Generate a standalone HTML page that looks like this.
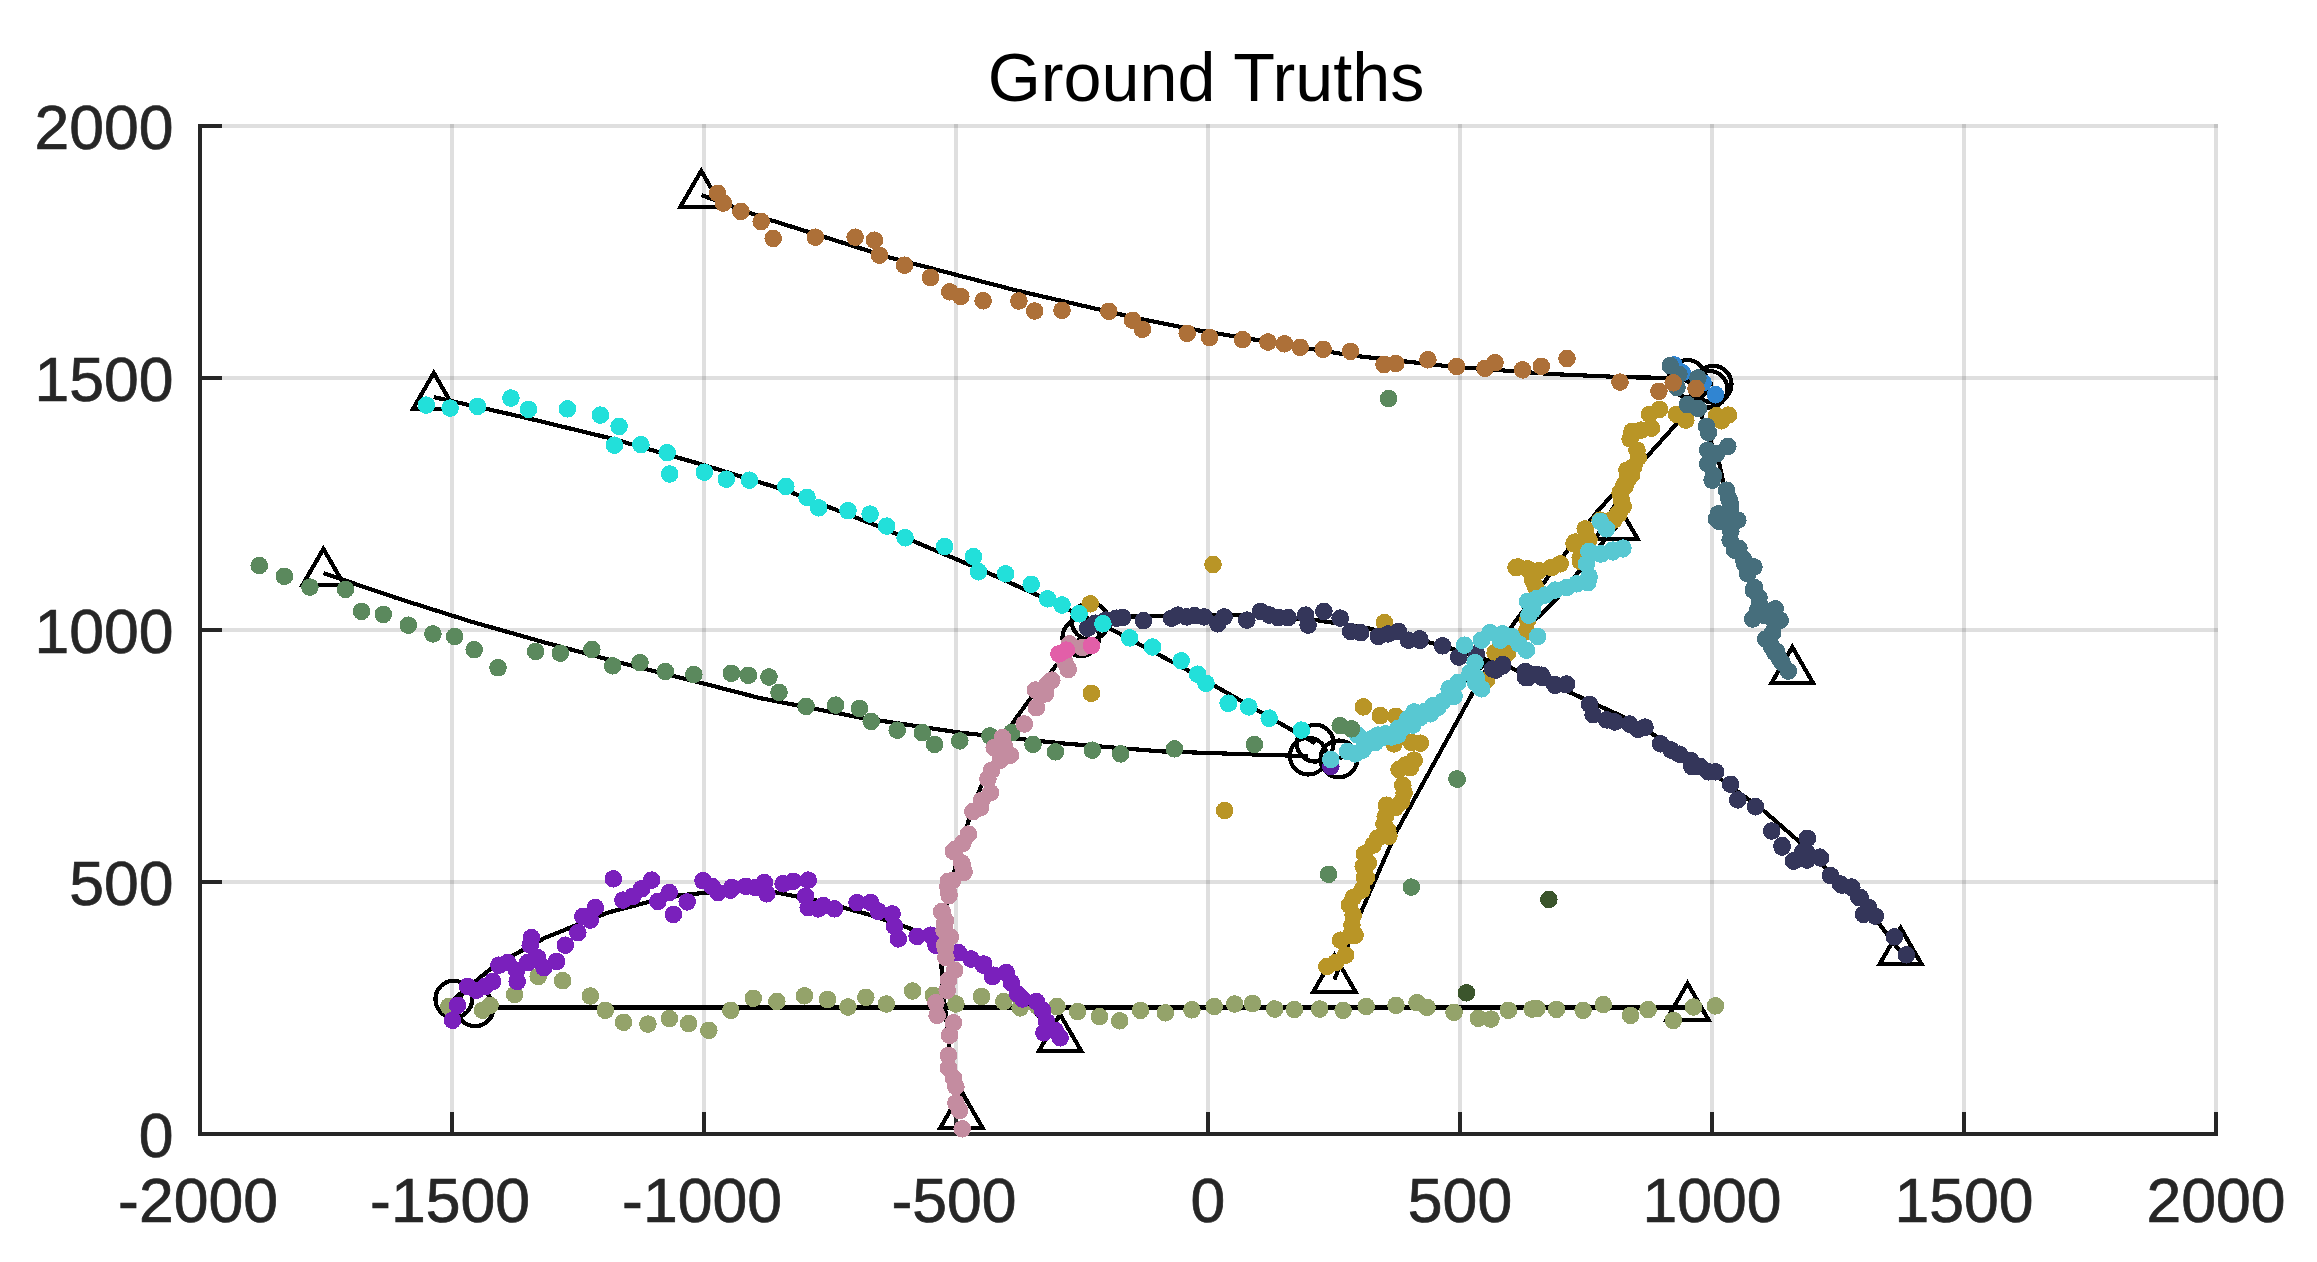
<!DOCTYPE html><html><head><meta charset="utf-8"><title>Ground Truths</title>
<style>html,body{margin:0;padding:0;background:#fff}svg{display:block}text{font-family:"Liberation Sans",Arial,sans-serif}</style></head><body>
<svg width="2317" height="1262" viewBox="0 0 2317 1262">
<rect width="2317" height="1262" fill="#fff"/>
<path d="M452.0 124.0V1134.0M704.0 124.0V1134.0M956.0 124.0V1134.0M1208.0 124.0V1134.0M1460.0 124.0V1134.0M1712.0 124.0V1134.0M1964.0 124.0V1134.0M2216.0 124.0V1134.0" stroke="#262626" stroke-opacity="0.15" stroke-width="4" fill="none"/>
<path d="M200.0 882.0H2218.0M200.0 630.0H2218.0M200.0 378.0H2218.0M200.0 126.0H2218.0" stroke="#262626" stroke-opacity="0.15" stroke-width="4" fill="none"/>
<path d="M200.0 124.0V1134.0M198.0 1134.0H2218.0M452.0 1134.0v-22M704.0 1134.0v-22M956.0 1134.0v-22M1208.0 1134.0v-22M1460.0 1134.0v-22M1712.0 1134.0v-22M1964.0 1134.0v-22M2216.0 1134.0v-22M200.0 882.0h22M200.0 630.0h22M200.0 378.0h22M200.0 126.0h22" stroke="#262626" stroke-width="4" fill="none"/>
<g shape-rendering="crispEdges">
<g fill="none" stroke="#000" stroke-width="4.17" stroke-linejoin="round">
<path d="M701.4 195.1 L765.2 218.4 L890.4 257.7 L1015.7 290.3 L1140.9 319.1 L1200.0 330.7 L1350.3 355.3 L1450.4 366.5 L1550.6 374.0 L1625.7 377.3 L1668.0 377.8 L1713.0 384.5"/>
<path d="M433.8 397.1 L525.2 417.6 L612.9 438.9 L704.3 465.2 L785.7 490.3 L875.8 525.3 L980.0 569.2 L1040.0 596.3 L1112.7 630.0 L1185.3 668.9 L1290.0 729.0 L1315.2 743.2"/>
<path d="M323.4 573.1 L395.3 597.6 L470.4 621.4 L545.6 642.7 L620.7 662.8 L695.8 681.5 L760.0 698.1 L860.2 717.6 L960.4 732.7 L1060.5 743.2 L1160.7 751.4 L1260.9 754.7 L1308.3 756.1"/>
<path d="M453.8 999.0 L495.1 965.2 L545.2 937.7 L607.8 912.6 L670.4 896.3 L720.5 891.3 L770.6 891.3 L820.7 901.4 L870.8 915.1 L908.4 927.7 L945.9 945.2 L1000.0 975.2 L1060.1 1038.6"/>
<path d="M475.1 1007.5 L1687.5 1007.5"/>
<path d="M961.4 1115.5 L955.9 1090.4 L950.4 1065.4 L948.4 1040.3 L945.9 1015.3 L942.9 990.3 L941.4 965.2 L942.9 927.7 L947.5 902.0 L955.9 865.0 L967.9 822.8 L980.4 787.8 L995.4 757.7 L1012.9 722.6 L1029.2 700.1 L1055.5 666.3 L1080.8 637.6"/>
<path d="M1090.2 621.3 L1130.0 616.5 L1200.0 615.3 L1240.5 614.6 L1315.6 620.1 L1365.7 627.7 L1440.9 645.2 L1511.1 668.0 L1573.4 694.0 L1625.3 717.8 L1656.5 736.5 L1720.8 779.1 L1764.4 811.3 L1797.6 840.3 L1824.6 867.3 L1877.1 921.1 L1900.6 952.1"/>
<path d="M1334.4 979.5 L1361.9 910.1 L1396.5 831.5 L1472.9 692.5 L1512.7 625.1 L1567.8 550.0 L1596.3 512.7 L1677.1 423.2 L1710.0 388.0"/>
<path d="M1338.9 758.9 L1442.9 698.8 L1462.9 683.8 L1540.2 615.1 L1557.7 597.6 L1601.6 543.8 L1616.5 526.5"/>
<path d="M1687.4 378.5 L1695.0 395.0 L1700.0 412.0 L1706.0 428.0 L1712.0 445.0 L1719.0 462.0 L1723.0 481.0 L1729.0 505.0 L1731.0 531.0 L1739.0 548.0 L1745.0 564.0 L1754.0 588.0 L1760.0 603.0 L1769.0 620.0 L1774.0 636.0 L1779.0 652.0 L1792.3 671.3"/>
</g>
<g fill="none" stroke="#000" stroke-width="4.17" stroke-linejoin="miter">
<path d="M701.2 170.9L722.2 207.2H680.2Z"/>
<path d="M433.8 372.9L454.8 409.2H412.8Z"/>
<path d="M323.4 548.9L344.4 585.2H302.4Z"/>
<path d="M1060.1 1014.4L1081.1 1050.7H1039.1Z"/>
<path d="M1687.5 983.4L1708.5 1019.7H1666.5Z"/>
<path d="M961.4 1091.3L982.4 1127.6H940.4Z"/>
<path d="M1900.6 927.9L1921.6 964.2H1879.6Z"/>
<path d="M1334.4 955.3L1355.4 991.6H1313.4Z"/>
<path d="M1616.5 502.3L1637.5 538.6H1595.5Z"/>
<path d="M1792.3 647.1L1813.3 683.4H1771.3Z"/>
<circle cx="1713.1" cy="384.2" r="18.4"/>
<circle cx="1709.0" cy="389.2" r="18.4"/>
<circle cx="1687.4" cy="378.5" r="18.4"/>
<circle cx="1315.2" cy="743.2" r="18.4"/>
<circle cx="1308.3" cy="756.1" r="18.4"/>
<circle cx="1338.9" cy="758.9" r="18.4"/>
<circle cx="453.8" cy="999.2" r="18.4"/>
<circle cx="475.1" cy="1007.8" r="18.4"/>
<circle cx="1080.8" cy="637.6" r="18.4"/>
<circle cx="1090.2" cy="621.3" r="18.4"/>
</g>
<g fill="#3085d2">
<circle cx="1715.5" cy="394.7" r="8.8"/><circle cx="1674.1" cy="364.9" r="8.8"/><circle cx="1703.1" cy="382.8" r="8.8"/><circle cx="1682.2" cy="372.8" r="8.8"/>
</g>
<g fill="#5a1fa0">
<circle cx="1330.8" cy="766.4" r="8.8"/>
</g>
<g fill="#b99526">
<circle cx="1659.5" cy="409.4" r="8.8"/><circle cx="1649.5" cy="414.4" r="8.8"/><circle cx="1676.5" cy="414.4" r="8.8"/><circle cx="1685.8" cy="420.1" r="8.8"/><circle cx="1716.5" cy="415.7" r="8.8"/><circle cx="1728.4" cy="415.1" r="8.8"/><circle cx="1721.5" cy="420.7" r="8.8"/><circle cx="1651.4" cy="428.2" r="8.8"/><circle cx="1641.4" cy="430.1" r="8.8"/><circle cx="1632.0" cy="431.3" r="8.8"/><circle cx="1630.1" cy="438.9" r="8.8"/><circle cx="1637.0" cy="450.1" r="8.8"/><circle cx="1638.3" cy="457.6" r="8.8"/><circle cx="1633.9" cy="466.4" r="8.8"/><circle cx="1627.0" cy="470.2" r="8.8"/><circle cx="1631.4" cy="475.2" r="8.8"/><circle cx="1627.6" cy="480.2" r="8.8"/><circle cx="1625.1" cy="486.4" r="8.8"/><circle cx="1620.1" cy="492.7" r="8.8"/><circle cx="1621.4" cy="500.2" r="8.8"/><circle cx="1623.2" cy="506.5" r="8.8"/><circle cx="1618.9" cy="514.0" r="8.8"/><circle cx="1613.8" cy="520.2" r="8.8"/><circle cx="1213.0" cy="564.5" r="8.8"/><circle cx="1224.7" cy="810.5" r="8.8"/><circle cx="1384.5" cy="622.6" r="8.8"/><circle cx="1516.0" cy="567.5" r="8.8"/><circle cx="1090.2" cy="603.8" r="8.8"/><circle cx="1091.4" cy="693.3" r="8.8"/><circle cx="1363.4" cy="706.9" r="8.8"/><circle cx="1380.3" cy="715.7" r="8.8"/><circle cx="1395.9" cy="716.3" r="8.8"/><circle cx="1394.0" cy="743.9" r="8.8"/><circle cx="1411.6" cy="742.6" r="8.8"/><circle cx="1420.3" cy="743.2" r="8.8"/><circle cx="1414.1" cy="760.1" r="8.8"/><circle cx="1405.3" cy="765.1" r="8.8"/><circle cx="1399.0" cy="769.5" r="8.8"/><circle cx="1410.3" cy="767.7" r="8.8"/><circle cx="1402.8" cy="785.2" r="8.8"/><circle cx="1404.1" cy="792.7" r="8.8"/><circle cx="1401.6" cy="801.5" r="8.8"/><circle cx="1386.5" cy="805.2" r="8.8"/><circle cx="1395.3" cy="807.7" r="8.8"/><circle cx="1385.3" cy="816.5" r="8.8"/><circle cx="1384.0" cy="824.0" r="8.8"/><circle cx="1387.8" cy="830.3" r="8.8"/><circle cx="1377.8" cy="838.0" r="8.8"/><circle cx="1574.0" cy="543.8" r="8.8"/><circle cx="1589.0" cy="540.0" r="8.8"/><circle cx="1580.3" cy="561.3" r="8.8"/><circle cx="1560.2" cy="563.8" r="8.8"/><circle cx="1551.5" cy="567.5" r="8.8"/><circle cx="1539.0" cy="570.7" r="8.8"/><circle cx="1527.7" cy="568.8" r="8.8"/><circle cx="1517.7" cy="566.9" r="8.8"/><circle cx="1532.7" cy="580.1" r="8.8"/><circle cx="1535.2" cy="586.3" r="8.8"/><circle cx="1527.7" cy="620.1" r="8.8"/><circle cx="1526.4" cy="631.4" r="8.8"/><circle cx="1495.1" cy="652.7" r="8.8"/><circle cx="1507.7" cy="652.7" r="8.8"/><circle cx="1486.4" cy="680.2" r="8.8"/><circle cx="1627.8" cy="477.5" r="8.8"/><circle cx="1624.0" cy="485.0" r="8.8"/><circle cx="1620.2" cy="493.8" r="8.8"/><circle cx="1621.5" cy="500.1" r="8.8"/><circle cx="1622.7" cy="506.3" r="8.8"/><circle cx="1617.7" cy="513.8" r="8.8"/><circle cx="1611.5" cy="520.1" r="8.8"/><circle cx="1600.2" cy="520.1" r="8.8"/><circle cx="1585.2" cy="528.9" r="8.8"/><circle cx="1586.4" cy="536.4" r="8.8"/><circle cx="1575.2" cy="542.0" r="8.8"/><circle cx="1580.2" cy="557.7" r="8.8"/><circle cx="1388.9" cy="836.3" r="8.8"/><circle cx="1368.3" cy="863.2" r="8.8"/><circle cx="1366.4" cy="877.6" r="8.8"/><circle cx="1355.1" cy="935.2" r="8.8"/><circle cx="1326.9" cy="966.5" r="8.8"/><circle cx="1335.6" cy="962.7" r="8.8"/><circle cx="1345.6" cy="955.2" r="8.8"/><circle cx="1340.6" cy="940.2" r="8.8"/><circle cx="1350.6" cy="935.2" r="8.8"/><circle cx="1351.9" cy="925.1" r="8.8"/><circle cx="1353.2" cy="915.1" r="8.8"/><circle cx="1349.4" cy="905.1" r="8.8"/><circle cx="1353.2" cy="897.6" r="8.8"/><circle cx="1361.9" cy="890.1" r="8.8"/><circle cx="1364.4" cy="877.6" r="8.8"/><circle cx="1363.2" cy="866.3" r="8.8"/><circle cx="1364.4" cy="853.8" r="8.8"/><circle cx="1373.2" cy="845.0" r="8.8"/>
</g>
<g fill="#34365a">
<circle cx="1495.6" cy="670.1" r="8.8"/><circle cx="1502.8" cy="665.9" r="8.8"/><circle cx="1525.7" cy="677.4" r="8.8"/><circle cx="1536.1" cy="674.3" r="8.8"/><circle cx="1542.3" cy="677.4" r="8.8"/><circle cx="1554.7" cy="684.6" r="8.8"/><circle cx="1566.2" cy="684.6" r="8.8"/><circle cx="1589.6" cy="704.4" r="8.8"/><circle cx="1593.1" cy="714.7" r="8.8"/><circle cx="1606.6" cy="719.9" r="8.8"/><circle cx="1614.9" cy="722.0" r="8.8"/><circle cx="1629.5" cy="724.1" r="8.8"/><circle cx="1637.8" cy="729.3" r="8.8"/><circle cx="1645.0" cy="727.2" r="8.8"/><circle cx="1660.6" cy="743.8" r="8.8"/><circle cx="1671.0" cy="750.0" r="8.8"/><circle cx="1679.3" cy="754.2" r="8.8"/><circle cx="1690.7" cy="760.4" r="8.8"/><circle cx="1691.8" cy="766.6" r="8.8"/><circle cx="1700.1" cy="766.6" r="8.8"/><circle cx="1708.4" cy="771.8" r="8.8"/><circle cx="1715.6" cy="771.8" r="8.8"/><circle cx="1730.6" cy="784.3" r="8.8"/><circle cx="1737.8" cy="799.9" r="8.8"/><circle cx="1755.5" cy="806.7" r="8.8"/><circle cx="1771.7" cy="831.0" r="8.8"/><circle cx="1782.1" cy="845.5" r="8.8"/><circle cx="1807.4" cy="838.3" r="8.8"/><circle cx="1802.8" cy="851.8" r="8.8"/><circle cx="1793.5" cy="861.1" r="8.8"/><circle cx="1807.0" cy="860.1" r="8.8"/><circle cx="1820.5" cy="858.0" r="8.8"/><circle cx="1830.4" cy="875.6" r="8.8"/><circle cx="1840.2" cy="883.9" r="8.8"/><circle cx="1851.6" cy="887.0" r="8.8"/><circle cx="1858.9" cy="897.4" r="8.8"/><circle cx="1782.1" cy="847.0" r="8.8"/><circle cx="1794.5" cy="860.5" r="8.8"/><circle cx="1806.3" cy="852.1" r="8.8"/><circle cx="1819.8" cy="857.1" r="8.8"/><circle cx="1830.6" cy="875.7" r="8.8"/><circle cx="1841.7" cy="885.1" r="8.8"/><circle cx="1851.8" cy="887.4" r="8.8"/><circle cx="1860.2" cy="897.5" r="8.8"/><circle cx="1868.6" cy="907.6" r="8.8"/><circle cx="1863.5" cy="914.4" r="8.8"/><circle cx="1875.3" cy="916.1" r="8.8"/><circle cx="1894.5" cy="936.9" r="8.8"/><circle cx="1906.3" cy="954.8" r="8.8"/><circle cx="1246.8" cy="620.1" r="8.8"/><circle cx="1260.6" cy="611.4" r="8.8"/><circle cx="1269.3" cy="615.1" r="8.8"/><circle cx="1278.1" cy="617.6" r="8.8"/><circle cx="1288.1" cy="617.6" r="8.8"/><circle cx="1305.6" cy="615.1" r="8.8"/><circle cx="1308.1" cy="625.1" r="8.8"/><circle cx="1323.9" cy="611.4" r="8.8"/><circle cx="1340.2" cy="618.1" r="8.8"/><circle cx="1350.7" cy="631.4" r="8.8"/><circle cx="1360.7" cy="632.7" r="8.8"/><circle cx="1378.3" cy="636.4" r="8.8"/><circle cx="1388.3" cy="633.9" r="8.8"/><circle cx="1398.3" cy="631.4" r="8.8"/><circle cx="1408.3" cy="640.2" r="8.8"/><circle cx="1419.6" cy="638.9" r="8.8"/><circle cx="1087.7" cy="628.2" r="8.8"/><circle cx="1095.2" cy="623.2" r="8.8"/><circle cx="1105.8" cy="620.1" r="8.8"/><circle cx="1116.5" cy="618.2" r="8.8"/><circle cx="1122.7" cy="617.6" r="8.8"/><circle cx="1143.4" cy="620.7" r="8.8"/><circle cx="1171.6" cy="618.2" r="8.8"/><circle cx="1177.8" cy="615.1" r="8.8"/><circle cx="1186.6" cy="616.9" r="8.8"/><circle cx="1194.7" cy="615.7" r="8.8"/><circle cx="1204.1" cy="616.9" r="8.8"/><circle cx="1217.9" cy="623.8" r="8.8"/><circle cx="1224.1" cy="616.9" r="8.8"/><circle cx="1420.0" cy="640.2" r="8.8"/><circle cx="1442.5" cy="645.8" r="8.8"/><circle cx="1458.8" cy="657.1" r="8.8"/><circle cx="1476.3" cy="653.9" r="8.8"/><circle cx="1492.6" cy="669.0" r="8.8"/><circle cx="1502.6" cy="664.6" r="8.8"/><circle cx="1525.2" cy="671.5" r="8.8"/><circle cx="1527.7" cy="677.7" r="8.8"/><circle cx="1541.5" cy="675.2" r="8.8"/><circle cx="1555.2" cy="685.3" r="8.8"/><circle cx="1566.5" cy="684.0" r="8.8"/>
</g>
<g fill="#466e7c">
<circle cx="1670.3" cy="365.7" r="8.8"/><circle cx="1678.9" cy="374.2" r="8.8"/><circle cx="1697.9" cy="378.0" r="8.8"/><circle cx="1677.0" cy="387.5" r="8.8"/><circle cx="1687.4" cy="404.7" r="8.8"/><circle cx="1698.4" cy="408.5" r="8.8"/><circle cx="1706.5" cy="426.3" r="8.8"/><circle cx="1708.4" cy="432.6" r="8.8"/><circle cx="1727.8" cy="446.4" r="8.8"/><circle cx="1707.8" cy="450.1" r="8.8"/><circle cx="1716.5" cy="453.9" r="8.8"/><circle cx="1707.8" cy="463.9" r="8.8"/><circle cx="1713.4" cy="475.2" r="8.8"/><circle cx="1712.1" cy="480.2" r="8.8"/><circle cx="1726.5" cy="490.2" r="8.8"/><circle cx="1729.0" cy="499.0" r="8.8"/><circle cx="1730.3" cy="507.7" r="8.8"/><circle cx="1719.0" cy="514.0" r="8.8"/><circle cx="1716.5" cy="519.0" r="8.8"/><circle cx="1726.5" cy="520.2" r="8.8"/><circle cx="1737.8" cy="520.2" r="8.8"/><circle cx="1730.3" cy="530.3" r="8.8"/><circle cx="1730.2" cy="503.8" r="8.8"/><circle cx="1718.3" cy="513.8" r="8.8"/><circle cx="1718.9" cy="521.3" r="8.8"/><circle cx="1730.2" cy="518.8" r="8.8"/><circle cx="1737.7" cy="520.0" r="8.8"/><circle cx="1730.8" cy="531.3" r="8.8"/><circle cx="1730.2" cy="540.1" r="8.8"/><circle cx="1738.9" cy="548.2" r="8.8"/><circle cx="1734.5" cy="550.1" r="8.8"/><circle cx="1743.3" cy="558.9" r="8.8"/><circle cx="1744.6" cy="563.9" r="8.8"/><circle cx="1753.9" cy="567.0" r="8.8"/><circle cx="1747.7" cy="573.9" r="8.8"/><circle cx="1754.6" cy="587.7" r="8.8"/><circle cx="1753.3" cy="590.2" r="8.8"/><circle cx="1759.0" cy="597.7" r="8.8"/><circle cx="1759.6" cy="605.2" r="8.8"/><circle cx="1757.7" cy="610.2" r="8.8"/><circle cx="1775.2" cy="608.9" r="8.8"/><circle cx="1752.7" cy="619.0" r="8.8"/><circle cx="1764.0" cy="615.2" r="8.8"/><circle cx="1772.7" cy="619.0" r="8.8"/><circle cx="1780.2" cy="620.2" r="8.8"/><circle cx="1772.7" cy="632.7" r="8.8"/><circle cx="1765.8" cy="639.0" r="8.8"/><circle cx="1771.5" cy="646.5" r="8.8"/><circle cx="1776.5" cy="651.5" r="8.8"/><circle cx="1779.0" cy="658.0" r="8.8"/><circle cx="1774.8" cy="652.5" r="8.8"/><circle cx="1782.1" cy="662.8" r="8.8"/><circle cx="1788.3" cy="671.1" r="8.8"/>
</g>
<g fill="#58c8d2">
<circle cx="1330.8" cy="759.5" r="8.8"/><circle cx="1347.7" cy="751.4" r="8.8"/><circle cx="1355.2" cy="753.9" r="8.8"/><circle cx="1357.7" cy="735.1" r="8.8"/><circle cx="1366.5" cy="745.1" r="8.8"/><circle cx="1377.8" cy="735.1" r="8.8"/><circle cx="1375.3" cy="742.6" r="8.8"/><circle cx="1391.5" cy="737.0" r="8.8"/><circle cx="1405.3" cy="726.3" r="8.8"/><circle cx="1412.8" cy="725.1" r="8.8"/><circle cx="1414.1" cy="711.9" r="8.8"/><circle cx="1430.4" cy="713.8" r="8.8"/><circle cx="1437.9" cy="707.5" r="8.8"/><circle cx="1449.1" cy="688.8" r="8.8"/><circle cx="1454.1" cy="696.3" r="8.8"/><circle cx="1457.9" cy="682.5" r="8.8"/><circle cx="1475.4" cy="682.5" r="8.8"/><circle cx="1481.7" cy="688.8" r="8.8"/><circle cx="1362.7" cy="750.1" r="8.8"/><circle cx="1371.5" cy="738.9" r="8.8"/><circle cx="1384.0" cy="737.0" r="8.8"/><circle cx="1385.3" cy="733.8" r="8.8"/><circle cx="1397.8" cy="735.1" r="8.8"/><circle cx="1398.4" cy="728.2" r="8.8"/><circle cx="1407.8" cy="718.8" r="8.8"/><circle cx="1420.3" cy="717.6" r="8.8"/><circle cx="1425.3" cy="711.3" r="8.8"/><circle cx="1432.9" cy="705.7" r="8.8"/><circle cx="1442.9" cy="701.3" r="8.8"/><circle cx="1622.9" cy="548.1" r="8.8"/><circle cx="1612.8" cy="551.9" r="8.8"/><circle cx="1601.6" cy="553.8" r="8.8"/><circle cx="1589.0" cy="551.3" r="8.8"/><circle cx="1586.5" cy="563.8" r="8.8"/><circle cx="1589.0" cy="576.3" r="8.8"/><circle cx="1587.8" cy="582.6" r="8.8"/><circle cx="1576.5" cy="583.8" r="8.8"/><circle cx="1566.5" cy="587.6" r="8.8"/><circle cx="1555.2" cy="590.1" r="8.8"/><circle cx="1545.2" cy="595.1" r="8.8"/><circle cx="1536.5" cy="598.6" r="8.8"/><circle cx="1527.7" cy="601.4" r="8.8"/><circle cx="1532.7" cy="610.1" r="8.8"/><circle cx="1528.9" cy="615.1" r="8.8"/><circle cx="1537.7" cy="636.4" r="8.8"/><circle cx="1490.1" cy="632.7" r="8.8"/><circle cx="1502.6" cy="633.9" r="8.8"/><circle cx="1511.4" cy="636.4" r="8.8"/><circle cx="1481.4" cy="640.2" r="8.8"/><circle cx="1464.5" cy="645.2" r="8.8"/><circle cx="1500.1" cy="640.2" r="8.8"/><circle cx="1518.9" cy="643.9" r="8.8"/><circle cx="1526.4" cy="650.2" r="8.8"/><circle cx="1475.1" cy="662.7" r="8.8"/><circle cx="1470.1" cy="672.7" r="8.8"/><circle cx="1476.3" cy="677.7" r="8.8"/><circle cx="1480.1" cy="687.8" r="8.8"/><circle cx="1600.2" cy="521.3" r="8.8"/><circle cx="1606.5" cy="528.9" r="8.8"/><circle cx="1588.9" cy="551.4" r="8.8"/><circle cx="1600.2" cy="553.9" r="8.8"/><circle cx="1612.7" cy="550.1" r="8.8"/><circle cx="1622.7" cy="548.9" r="8.8"/><circle cx="1586.4" cy="563.9" r="8.8"/><circle cx="1588.9" cy="577.7" r="8.8"/>
</g>
<g fill="#94a36a">
<circle cx="1537.0" cy="1008.6" r="8.8"/><circle cx="1556.5" cy="1009.3" r="8.8"/><circle cx="1583.1" cy="1010.3" r="8.8"/><circle cx="1603.3" cy="1004.6" r="8.8"/><circle cx="1630.6" cy="1015.4" r="8.8"/><circle cx="1648.1" cy="1009.6" r="8.8"/><circle cx="1673.3" cy="1020.4" r="8.8"/><circle cx="1693.5" cy="1007.0" r="8.8"/><circle cx="1715.4" cy="1005.9" r="8.8"/><circle cx="448.8" cy="1006.5" r="8.8"/><circle cx="482.6" cy="1010.3" r="8.8"/><circle cx="490.1" cy="1005.3" r="8.8"/><circle cx="514.7" cy="994.5" r="8.8"/><circle cx="538.2" cy="976.5" r="8.8"/><circle cx="562.7" cy="980.7" r="8.8"/><circle cx="590.3" cy="996.0" r="8.8"/><circle cx="605.3" cy="1010.3" r="8.8"/><circle cx="623.6" cy="1022.3" r="8.8"/><circle cx="647.9" cy="1024.1" r="8.8"/><circle cx="669.4" cy="1018.6" r="8.8"/><circle cx="688.7" cy="1023.6" r="8.8"/><circle cx="708.8" cy="1030.3" r="8.8"/><circle cx="730.8" cy="1010.3" r="8.8"/><circle cx="753.3" cy="998.3" r="8.8"/><circle cx="776.9" cy="1001.5" r="8.8"/><circle cx="804.4" cy="995.8" r="8.8"/><circle cx="827.5" cy="999.5" r="8.8"/><circle cx="848.0" cy="1007.0" r="8.8"/><circle cx="865.8" cy="997.3" r="8.8"/><circle cx="886.3" cy="1004.0" r="8.8"/><circle cx="912.6" cy="991.0" r="8.8"/><circle cx="933.4" cy="995.3" r="8.8"/><circle cx="955.9" cy="1004.0" r="8.8"/><circle cx="981.5" cy="996.5" r="8.8"/><circle cx="1003.8" cy="1001.5" r="8.8"/><circle cx="1020.1" cy="1007.8" r="8.8"/><circle cx="1037.6" cy="1006.5" r="8.8"/><circle cx="1057.1" cy="1006.5" r="8.8"/><circle cx="1077.7" cy="1011.6" r="8.8"/><circle cx="1099.5" cy="1016.6" r="8.8"/><circle cx="1119.7" cy="1020.8" r="8.8"/><circle cx="1140.5" cy="1010.3" r="8.8"/><circle cx="1165.3" cy="1012.8" r="8.8"/><circle cx="1191.9" cy="1009.8" r="8.8"/><circle cx="1214.2" cy="1006.5" r="8.8"/><circle cx="1234.7" cy="1004.0" r="8.8"/><circle cx="1252.5" cy="1003.5" r="8.8"/><circle cx="1274.8" cy="1009.0" r="8.8"/><circle cx="1294.3" cy="1009.5" r="8.8"/><circle cx="1319.8" cy="1009.0" r="8.8"/><circle cx="1343.1" cy="1010.3" r="8.8"/><circle cx="1366.2" cy="1006.5" r="8.8"/><circle cx="1396.0" cy="1005.3" r="8.8"/><circle cx="1417.0" cy="1002.8" r="8.8"/><circle cx="1427.0" cy="1007.3" r="8.8"/><circle cx="1454.1" cy="1012.3" r="8.8"/><circle cx="1478.4" cy="1018.3" r="8.8"/><circle cx="1490.9" cy="1019.1" r="8.8"/><circle cx="1508.4" cy="1010.3" r="8.8"/><circle cx="1532.2" cy="1009.0" r="8.8"/>
</g>
<g fill="#7a20bc">
<circle cx="452.6" cy="1020.3" r="8.8"/><circle cx="457.6" cy="1005.3" r="8.8"/><circle cx="467.6" cy="986.5" r="8.8"/><circle cx="476.3" cy="990.3" r="8.8"/><circle cx="485.1" cy="986.5" r="8.8"/><circle cx="492.6" cy="981.5" r="8.8"/><circle cx="498.9" cy="965.2" r="8.8"/><circle cx="507.7" cy="962.7" r="8.8"/><circle cx="516.4" cy="970.2" r="8.8"/><circle cx="517.2" cy="981.5" r="8.8"/><circle cx="527.7" cy="962.7" r="8.8"/><circle cx="530.2" cy="945.2" r="8.8"/><circle cx="531.4" cy="937.7" r="8.8"/><circle cx="537.7" cy="957.7" r="8.8"/><circle cx="544.0" cy="967.7" r="8.8"/><circle cx="556.5" cy="961.5" r="8.8"/><circle cx="565.3" cy="945.2" r="8.8"/><circle cx="577.8" cy="932.7" r="8.8"/><circle cx="582.8" cy="916.4" r="8.8"/><circle cx="590.3" cy="920.1" r="8.8"/><circle cx="595.3" cy="907.6" r="8.8"/><circle cx="622.9" cy="900.1" r="8.8"/><circle cx="632.9" cy="896.3" r="8.8"/><circle cx="641.6" cy="888.8" r="8.8"/><circle cx="651.7" cy="880.1" r="8.8"/><circle cx="613.3" cy="878.8" r="8.8"/><circle cx="657.9" cy="901.4" r="8.8"/><circle cx="669.2" cy="892.6" r="8.8"/><circle cx="673.4" cy="914.4" r="8.8"/><circle cx="687.2" cy="901.9" r="8.8"/><circle cx="703.0" cy="880.8" r="8.8"/><circle cx="711.8" cy="886.3" r="8.8"/><circle cx="718.0" cy="892.6" r="8.8"/><circle cx="730.5" cy="890.1" r="8.8"/><circle cx="731.8" cy="887.6" r="8.8"/><circle cx="745.6" cy="886.3" r="8.8"/><circle cx="755.6" cy="887.6" r="8.8"/><circle cx="764.4" cy="882.6" r="8.8"/><circle cx="766.9" cy="893.8" r="8.8"/><circle cx="783.1" cy="883.8" r="8.8"/><circle cx="793.2" cy="881.3" r="8.8"/><circle cx="808.2" cy="880.1" r="8.8"/><circle cx="805.7" cy="896.3" r="8.8"/><circle cx="808.2" cy="907.6" r="8.8"/><circle cx="818.2" cy="908.9" r="8.8"/><circle cx="823.2" cy="905.6" r="8.8"/><circle cx="834.5" cy="908.9" r="8.8"/><circle cx="857.0" cy="902.6" r="8.8"/><circle cx="870.8" cy="902.6" r="8.8"/><circle cx="878.3" cy="911.4" r="8.8"/><circle cx="892.1" cy="913.9" r="8.8"/><circle cx="894.6" cy="926.4" r="8.8"/><circle cx="898.3" cy="938.9" r="8.8"/><circle cx="917.1" cy="936.4" r="8.8"/><circle cx="930.9" cy="935.2" r="8.8"/><circle cx="935.9" cy="945.2" r="8.8"/><circle cx="958.4" cy="952.7" r="8.8"/><circle cx="971.0" cy="959.0" r="8.8"/><circle cx="983.5" cy="965.2" r="8.8"/><circle cx="993.5" cy="975.2" r="8.8"/><circle cx="983.8" cy="964.0" r="8.8"/><circle cx="992.5" cy="976.5" r="8.8"/><circle cx="1006.3" cy="972.7" r="8.8"/><circle cx="1011.3" cy="982.7" r="8.8"/><circle cx="1017.6" cy="994.0" r="8.8"/><circle cx="1022.6" cy="999.0" r="8.8"/><circle cx="1036.3" cy="1001.5" r="8.8"/><circle cx="1042.6" cy="1010.3" r="8.8"/><circle cx="1046.4" cy="1021.6" r="8.8"/><circle cx="1043.9" cy="1032.8" r="8.8"/><circle cx="1055.1" cy="1030.3" r="8.8"/><circle cx="1060.1" cy="1037.8" r="8.8"/>
</g>
<g fill="#ad7038">
<circle cx="717.6" cy="193.3" r="8.8"/><circle cx="723.4" cy="203.1" r="8.8"/><circle cx="740.9" cy="211.4" r="8.8"/><circle cx="761.2" cy="221.6" r="8.8"/><circle cx="773.2" cy="238.4" r="8.8"/><circle cx="815.3" cy="237.2" r="8.8"/><circle cx="855.1" cy="237.2" r="8.8"/><circle cx="874.4" cy="240.2" r="8.8"/><circle cx="879.4" cy="255.2" r="8.8"/><circle cx="904.5" cy="265.2" r="8.8"/><circle cx="930.5" cy="277.5" r="8.8"/><circle cx="949.8" cy="291.8" r="8.8"/><circle cx="960.8" cy="296.5" r="8.8"/><circle cx="983.1" cy="300.8" r="8.8"/><circle cx="1018.9" cy="301.0" r="8.8"/><circle cx="1034.7" cy="311.0" r="8.8"/><circle cx="1062.0" cy="310.3" r="8.8"/><circle cx="1108.8" cy="311.3" r="8.8"/><circle cx="1132.6" cy="320.3" r="8.8"/><circle cx="1142.4" cy="329.3" r="8.8"/><circle cx="1187.2" cy="333.3" r="8.8"/><circle cx="1209.7" cy="337.6" r="8.8"/><circle cx="1242.6" cy="339.7" r="8.8"/><circle cx="1267.9" cy="342.0" r="8.8"/><circle cx="1284.4" cy="343.8" r="8.8"/><circle cx="1300.2" cy="347.3" r="8.8"/><circle cx="1323.2" cy="349.3" r="8.8"/><circle cx="1350.5" cy="351.3" r="8.8"/><circle cx="1384.1" cy="364.5" r="8.8"/><circle cx="1395.8" cy="363.5" r="8.8"/><circle cx="1427.9" cy="359.8" r="8.8"/><circle cx="1456.7" cy="366.5" r="8.8"/><circle cx="1485.0" cy="368.3" r="8.8"/><circle cx="1495.0" cy="362.8" r="8.8"/><circle cx="1522.6" cy="369.8" r="8.8"/><circle cx="1541.3" cy="366.3" r="8.8"/><circle cx="1567.1" cy="358.5" r="8.8"/><circle cx="1620.0" cy="382.1" r="8.8"/><circle cx="1658.9" cy="391.3" r="8.8"/><circle cx="1673.2" cy="382.8" r="8.8"/><circle cx="1696.0" cy="388.5" r="8.8"/>
</g>
<g fill="#5b895d">
<circle cx="1388.6" cy="398.6" r="8.8"/><circle cx="1457.2" cy="779.2" r="8.8"/><circle cx="1254.4" cy="744.5" r="8.8"/><circle cx="1340.2" cy="725.7" r="8.8"/><circle cx="1351.5" cy="728.8" r="8.8"/><circle cx="1456.9" cy="778.9" r="8.8"/><circle cx="259.3" cy="565.6" r="8.8"/><circle cx="284.4" cy="576.3" r="8.8"/><circle cx="309.9" cy="587.1" r="8.8"/><circle cx="345.5" cy="589.4" r="8.8"/><circle cx="361.5" cy="611.4" r="8.8"/><circle cx="383.3" cy="614.4" r="8.8"/><circle cx="408.3" cy="625.2" r="8.8"/><circle cx="432.9" cy="633.9" r="8.8"/><circle cx="454.7" cy="636.5" r="8.8"/><circle cx="474.2" cy="649.7" r="8.8"/><circle cx="498.0" cy="667.8" r="8.8"/><circle cx="535.6" cy="651.5" r="8.8"/><circle cx="560.3" cy="653.2" r="8.8"/><circle cx="591.9" cy="649.5" r="8.8"/><circle cx="612.7" cy="665.8" r="8.8"/><circle cx="640.0" cy="662.7" r="8.8"/><circle cx="665.3" cy="671.5" r="8.8"/><circle cx="693.8" cy="674.5" r="8.8"/><circle cx="731.4" cy="673.3" r="8.8"/><circle cx="748.4" cy="675.3" r="8.8"/><circle cx="769.0" cy="677.0" r="8.8"/><circle cx="779.0" cy="692.3" r="8.8"/><circle cx="806.1" cy="706.4" r="8.8"/><circle cx="835.6" cy="705.1" r="8.8"/><circle cx="859.4" cy="708.4" r="8.8"/><circle cx="871.2" cy="721.4" r="8.8"/><circle cx="897.2" cy="730.2" r="8.8"/><circle cx="922.3" cy="732.7" r="8.8"/><circle cx="934.6" cy="744.4" r="8.8"/><circle cx="959.8" cy="740.9" r="8.8"/><circle cx="989.9" cy="735.9" r="8.8"/><circle cx="1011.7" cy="732.7" r="8.8"/><circle cx="1033.0" cy="744.4" r="8.8"/><circle cx="1055.5" cy="751.9" r="8.8"/><circle cx="1092.3" cy="750.2" r="8.8"/><circle cx="1120.6" cy="753.9" r="8.8"/><circle cx="1174.5" cy="748.9" r="8.8"/><circle cx="1328.6" cy="874.3" r="8.8"/><circle cx="1411.3" cy="887.1" r="8.8"/>
</g>
<g fill="#c48ca0">
<circle cx="1069.5" cy="643.9" r="8.8"/><circle cx="1082.6" cy="647.6" r="8.8"/><circle cx="1065.1" cy="662.6" r="8.8"/><circle cx="1068.2" cy="669.5" r="8.8"/><circle cx="1051.3" cy="680.8" r="8.8"/><circle cx="1047.6" cy="683.9" r="8.8"/><circle cx="1036.3" cy="690.2" r="8.8"/><circle cx="1044.5" cy="693.9" r="8.8"/><circle cx="1036.3" cy="707.7" r="8.8"/><circle cx="1024.4" cy="724.0" r="8.8"/><circle cx="1068.0" cy="668.8" r="8.8"/><circle cx="1051.8" cy="680.1" r="8.8"/><circle cx="1035.5" cy="690.1" r="8.8"/><circle cx="1045.5" cy="693.8" r="8.8"/><circle cx="1036.7" cy="707.6" r="8.8"/><circle cx="1024.2" cy="723.9" r="8.8"/><circle cx="1002.4" cy="737.7" r="8.8"/><circle cx="994.2" cy="747.7" r="8.8"/><circle cx="1004.2" cy="745.2" r="8.8"/><circle cx="1010.4" cy="755.2" r="8.8"/><circle cx="1000.4" cy="760.2" r="8.8"/><circle cx="991.7" cy="770.2" r="8.8"/><circle cx="987.9" cy="779.0" r="8.8"/><circle cx="990.4" cy="792.8" r="8.8"/><circle cx="981.6" cy="800.3" r="8.8"/><circle cx="972.9" cy="811.6" r="8.8"/><circle cx="980.4" cy="807.8" r="8.8"/><circle cx="968.4" cy="834.1" r="8.8"/><circle cx="962.9" cy="842.9" r="8.8"/><circle cx="955.3" cy="849.1" r="8.8"/><circle cx="961.6" cy="862.9" r="8.8"/><circle cx="964.1" cy="871.7" r="8.8"/><circle cx="952.8" cy="880.4" r="8.8"/><circle cx="947.8" cy="886.7" r="8.8"/><circle cx="949.1" cy="895.4" r="8.8"/><circle cx="941.6" cy="911.7" r="8.8"/><circle cx="945.3" cy="920.5" r="8.8"/><circle cx="944.1" cy="930.5" r="8.8"/><circle cx="950.3" cy="936.8" r="8.8"/><circle cx="945.3" cy="948.0" r="8.8"/><circle cx="962.2" cy="843.8" r="8.8"/><circle cx="953.4" cy="851.3" r="8.8"/><circle cx="962.2" cy="865.0" r="8.8"/><circle cx="963.5" cy="872.6" r="8.8"/><circle cx="948.4" cy="881.3" r="8.8"/><circle cx="948.4" cy="892.6" r="8.8"/><circle cx="942.2" cy="911.4" r="8.8"/><circle cx="944.7" cy="923.9" r="8.8"/><circle cx="948.4" cy="936.4" r="8.8"/><circle cx="944.7" cy="945.2" r="8.8"/><circle cx="945.9" cy="957.7" r="8.8"/><circle cx="954.7" cy="970.2" r="8.8"/><circle cx="948.4" cy="980.2" r="8.8"/><circle cx="947.2" cy="990.3" r="8.8"/><circle cx="935.9" cy="1002.8" r="8.8"/><circle cx="937.2" cy="1015.3" r="8.8"/><circle cx="953.4" cy="1022.8" r="8.8"/><circle cx="949.7" cy="1035.3" r="8.8"/><circle cx="948.4" cy="1055.4" r="8.8"/><circle cx="948.4" cy="1067.9" r="8.8"/><circle cx="953.4" cy="1077.9" r="8.8"/><circle cx="955.9" cy="1086.7" r="8.8"/><circle cx="955.9" cy="1103.0" r="8.8"/><circle cx="959.7" cy="1110.5" r="8.8"/><circle cx="962.2" cy="1128.8" r="8.8"/>
</g>
<g fill="#e25fa8">
<circle cx="1091.4" cy="645.7" r="8.8"/><circle cx="1058.9" cy="653.9" r="8.8"/><circle cx="1066.4" cy="650.1" r="8.8"/>
</g>
<g fill="#22e0da">
<circle cx="426.3" cy="405.1" r="8.8"/><circle cx="450.1" cy="408.1" r="8.8"/><circle cx="477.6" cy="406.4" r="8.8"/><circle cx="510.9" cy="398.1" r="8.8"/><circle cx="528.5" cy="409.4" r="8.8"/><circle cx="567.5" cy="408.9" r="8.8"/><circle cx="600.4" cy="415.1" r="8.8"/><circle cx="619.1" cy="426.4" r="8.8"/><circle cx="614.4" cy="445.2" r="8.8"/><circle cx="640.9" cy="444.7" r="8.8"/><circle cx="667.2" cy="452.7" r="8.8"/><circle cx="669.7" cy="474.0" r="8.8"/><circle cx="704.3" cy="472.2" r="8.8"/><circle cx="726.3" cy="479.2" r="8.8"/><circle cx="749.4" cy="480.2" r="8.8"/><circle cx="785.9" cy="486.5" r="8.8"/><circle cx="807.0" cy="497.3" r="8.8"/><circle cx="818.7" cy="507.8" r="8.8"/><circle cx="848.0" cy="510.8" r="8.8"/><circle cx="870.1" cy="514.1" r="8.8"/><circle cx="886.6" cy="526.1" r="8.8"/><circle cx="905.1" cy="537.8" r="8.8"/><circle cx="944.7" cy="546.6" r="8.8"/><circle cx="973.5" cy="556.6" r="8.8"/><circle cx="978.5" cy="571.7" r="8.8"/><circle cx="1005.6" cy="573.8" r="8.8"/><circle cx="1031.2" cy="584.3" r="8.8"/><circle cx="1047.6" cy="598.8" r="8.8"/><circle cx="1062.0" cy="605.0" r="8.8"/><circle cx="1079.1" cy="613.8" r="8.8"/><circle cx="1102.9" cy="623.8" r="8.8"/><circle cx="1129.6" cy="637.9" r="8.8"/><circle cx="1152.5" cy="647.0" r="8.8"/><circle cx="1181.2" cy="660.8" r="8.8"/><circle cx="1197.6" cy="674.2" r="8.8"/><circle cx="1206.0" cy="683.3" r="8.8"/><circle cx="1228.1" cy="703.3" r="8.8"/><circle cx="1248.8" cy="706.8" r="8.8"/><circle cx="1269.2" cy="718.4" r="8.8"/><circle cx="1228.7" cy="703.2" r="8.8"/><circle cx="1248.8" cy="706.9" r="8.8"/><circle cx="1269.2" cy="718.2" r="8.8"/><circle cx="1301.4" cy="730.1" r="8.8"/>
</g>
<g fill="#3b552c">
<circle cx="1548.9" cy="899.5" r="8.8"/><circle cx="1466.4" cy="992.8" r="8.8"/>
</g>
</g>
<g font-size="62.5" fill="#262626" stroke="#262626" stroke-width="0.7">
<text x="198.0" y="1222" text-anchor="middle">-2000</text>
<text x="450.0" y="1222" text-anchor="middle">-1500</text>
<text x="702.0" y="1222" text-anchor="middle">-1000</text>
<text x="954.0" y="1222" text-anchor="middle">-500</text>
<text x="1208.0" y="1222" text-anchor="middle">0</text>
<text x="1460.0" y="1222" text-anchor="middle">500</text>
<text x="1712.0" y="1222" text-anchor="middle">1000</text>
<text x="1964.0" y="1222" text-anchor="middle">1500</text>
<text x="2216.0" y="1222" text-anchor="middle">2000</text>
<text x="173.5" y="1156.8" text-anchor="end">0</text>
<text x="173.5" y="904.8" text-anchor="end">500</text>
<text x="173.5" y="652.8" text-anchor="end">1000</text>
<text x="173.5" y="400.8" text-anchor="end">1500</text>
<text x="173.5" y="148.8" text-anchor="end">2000</text>
</g>
<text x="1206" y="101" font-size="68.3" fill="#000" text-anchor="middle">Ground Truths</text>
</svg></body></html>
